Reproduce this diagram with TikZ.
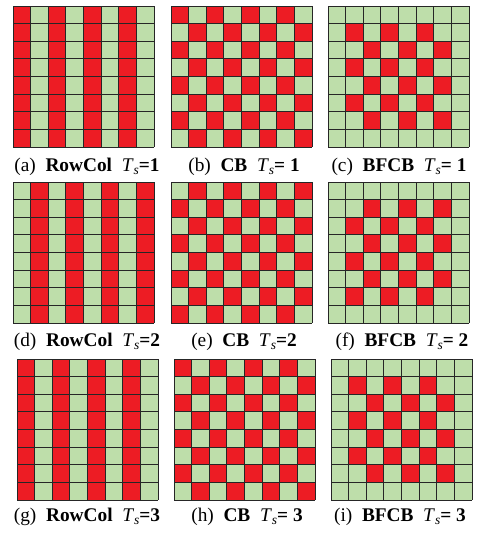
\documentclass[tikz,border=0pt]{standalone}
\usepackage{fontspec}
\setmainfont{Liberation Serif}
\definecolor{cellred}{RGB}{237,28,36}
\definecolor{cellgreen}{RGB}{190,222,170}
% T_s in text italic, as set in the captions
\newcommand{\tsub}{\textit{T}\raisebox{-0.35ex}{\fontsize{11.5}{12}\selectfont\textit{s}}}
\newcommand{\gap}{\hspace{0.5em}}
% 8x8 pattern: #1,#2 top left corner, #3 test for a red cell (uses \ri, \ci)
\newcommand{\patgrid}[3]{%
    \fill[greencell] (#1,#2) rectangle ++(141,141);
    \foreach \ri in {0,...,7} {
        \foreach \ci in {0,...,7} {
            \pgfmathtruncatemacro{\isred}{#3}
            \ifnum\isred=1
                \fill[redcell] (#1+\ci*17.625,#2+\ri*17.625) rectangle ++(17.625,17.625);
            \fi
        }
    }
    \foreach \k in {0,...,8} {
        \draw[gridline] (#1+\k*17.625,#2) -- ++(0,141);
        \draw[gridline] (#1,#2+\k*17.625) -- ++(141,0);
    }
}

\begin{document}
\begin{tikzpicture}[
    x=0.03cm, y=-0.03cm,
    every node/.style={font=\fontsize{16.5}{18}\selectfont, inner sep=0pt},
    gridline/.style={draw=black!85, line width=0.8pt},
    redcell/.style={fill=cellred},
    greencell/.style={fill=cellgreen}
]
    \useasboundingbox (0,0) rectangle (477,533);

    % row 1
    \patgrid{13}{6}{mod(\ci,2)==0}
    \patgrid{171}{6}{mod(\ri+\ci,2)==0}
    \patgrid{328}{6}{mod(\ri+\ci,2)==0 && \ri>0 && \ri<7 && \ci>0 && \ci<7}
    \node (capa) at (87,167) {(a)\gap\textbf{RowCol}\gap\tsub\textbf{=1}};
    \node (capb) at (244,167) {(b)\gap\textbf{CB}\gap\tsub\textbf{= 1}};
    \node (capc) at (399,167) {(c)\gap\textbf{BFCB}\gap\tsub\textbf{= 1}};

    % row 2
    \patgrid{13}{182}{mod(\ci,2)==1}
    \patgrid{171}{182}{mod(\ri+\ci,2)==1}
    \patgrid{328}{182}{mod(\ri+\ci,2)==1 && \ri>0 && \ri<7 && \ci>0 && \ci<7}
    \node (capd) at (87,342) {(d)\gap\textbf{RowCol}\gap\tsub\textbf{=2}};
    \node (cape) at (244,342) {(e)\gap\textbf{CB}\gap\tsub\textbf{=2}};
    \node (capf) at (402,342) {(f)\gap\textbf{BFCB}\gap\tsub\textbf{= 2}};

    % row 3
    \patgrid{17}{359}{mod(\ci,2)==0}
    \patgrid{174}{359}{mod(\ri+\ci,2)==0}
    \patgrid{331}{359}{mod(\ri+\ci,2)==0 && \ri>0 && \ri<7 && \ci>0 && \ci<7}
    \node (capg) at (87,517) {(g)\gap\textbf{RowCol}\gap\tsub\textbf{=3}};
    \node (caph) at (247,517) {(h)\gap\textbf{CB}\gap\tsub\textbf{= 3}};
    \node (capi) at (400,517) {(i)\gap\textbf{BFCB}\gap\tsub\textbf{= 3}};
\end{tikzpicture}
\end{document}
